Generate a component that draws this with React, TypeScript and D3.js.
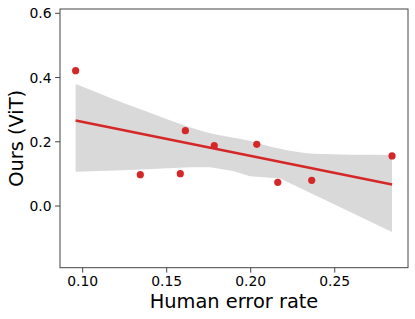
import React from 'react';
import * as d3 from 'd3';

// scatter points
const humanError = [0.0958, 0.1343, 0.1581, 0.1611, 0.1783, 0.2036, 0.2161, 0.2363, 0.2841];
const oursVit = [0.4215, 0.0976, 0.1007, 0.2346, 0.188, 0.192, 0.0737, 0.08, 0.156];

// confidence band edges (bootstrap)
const bandUpperX = [0.0958, 0.138, 0.174, 0.1976, 0.2175, 0.237, 0.2841];
const bandUpperY = [0.38, 0.294, 0.229, 0.205, 0.178, 0.163, 0.159];
const bandLowerX = [0.0958, 0.128, 0.164, 0.176, 0.1895, 0.1996, 0.2175, 0.2841];
const bandLowerY = [0.107, 0.112, 0.121, 0.121, 0.109, 0.093, 0.086, -0.081];

const xTicks = [0.1, 0.15, 0.2, 0.25];
const yTicks = [0.0, 0.2, 0.4, 0.6];

const W = 415;
const H = 319;
const margin = { top: 9, right: 7, bottom: 51.3, left: 60 };

export default function App() {
  const innerW = W - margin.left - margin.right;
  const innerH = H - margin.top - margin.bottom;

  const x = d3.scaleLinear().domain([0.0865, 0.2936]).range([0, innerW]);
  const y = d3.scaleLinear().domain([-0.192, 0.6134]).range([innerH, 0]);

  // least squares fit
  const mx = d3.mean(humanError)!;
  const my = d3.mean(oursVit)!;
  let sxy = 0;
  let sxx = 0;
  humanError.forEach((v, i) => {
    sxy += (v - mx) * (oursVit[i] - my);
    sxx += (v - mx) * (v - mx);
  });
  const slope = sxy / sxx;
  const icpt = my - slope * mx;
  const x0 = d3.min(humanError)!;
  const x1 = d3.max(humanError)!;

  const line = d3
    .line<number>()
    .x((d) => x(d))
    .y((d) => y(icpt + slope * d));

  const upper = bandUpperX.map((v, i) => [x(v), y(bandUpperY[i])] as [number, number]);
  const lower = bandLowerX
    .map((v, i) => [x(v), y(bandLowerY[i])] as [number, number])
    .reverse();
  const bandPath = d3.line().curve(d3.curveMonotoneX)(upper)! +
    'L' + d3.line().curve(d3.curveLinear)(lower)!.slice(1) + 'Z';

  const font = 'DejaVu Sans, sans-serif';

  return (
    <svg width={W} height={H} style={{ position: 'absolute', left: 0, top: 0 }}>
      <rect width={W} height={H} fill="#fff" />
      <g transform={`translate(${margin.left},${margin.top})`}>
        <path d={bandPath} fill="#d9d9d9" />
        <path d={line([x0, x1]) as string} fill="none" stroke="#d62728" strokeWidth={2.4} />
        {humanError.map((v, i) => (
          <circle key={i} cx={x(v)} cy={y(oursVit[i])} r={3.6} fill="#d62728" />
        ))}
        <rect x={0} y={0} width={innerW} height={innerH} fill="none" stroke="#444" strokeWidth={1} />
        {xTicks.map((t) => (
          <g key={t} transform={`translate(${x(t)},${innerH})`}>
            <line y2={4.9} stroke="#444" strokeWidth={1} />
            <text y={18.8} textAnchor="middle" fontFamily={font} fontSize={13.9} fill="#000">
              {t.toFixed(2)}
            </text>
          </g>
        ))}
        {yTicks.map((t) => (
          <g key={t} transform={`translate(0,${y(t)})`}>
            <line x2={-4.9} stroke="#444" strokeWidth={1} />
            <text x={-8.5} dy="0.36em" textAnchor="end" fontFamily={font} fontSize={13.9} fill="#000">
              {t.toFixed(1)}
            </text>
          </g>
        ))}
        <text
          x={innerW / 2}
          y={innerH + 40.5}
          textAnchor="middle"
          fontFamily={font}
          fontSize={19.4}
          fill="#000"
        >
          Human error rate
        </text>
        <text
          transform={`translate(${23 - margin.left},${innerH / 2}) rotate(-90)`}
          textAnchor="middle"
          fontFamily={font}
          fontSize={19.4}
          fill="#000"
        >
          Ours (ViT)
        </text>
      </g>
    </svg>
  );
}
